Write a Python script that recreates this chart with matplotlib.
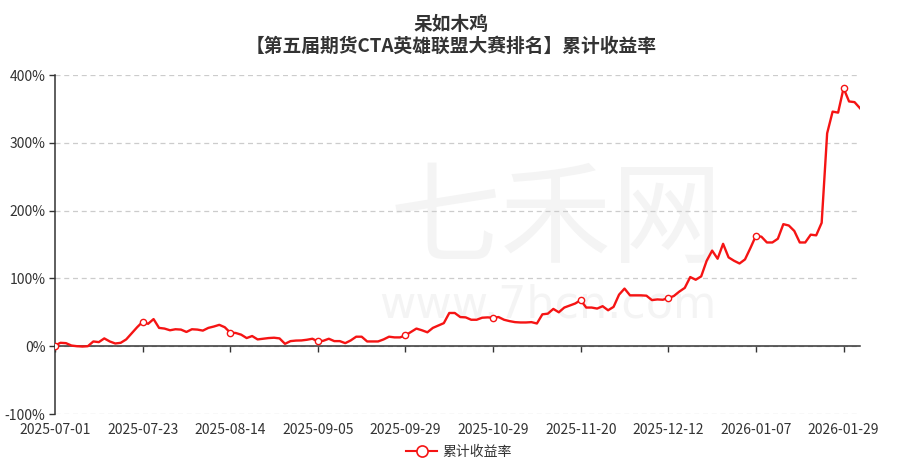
import numpy as np
import matplotlib
matplotlib.use("Agg")
import matplotlib.pyplot as plt

plt.rcParams['font.family'] = ['Noto Sans CJK SC', 'DejaVu Sans']

# --- data (one value per trading day) ---
TITLE_1 = "呆如木鸡"
TITLE_2 = "【第五届期货CTA英雄联盟大赛排名】累计收益率"
SERIES_NAME = "累计收益率"
tick_labels = ["2025-07-01", "2025-07-23", "2025-08-14", "2025-09-05", "2025-09-29",
               "2025-10-29", "2025-11-20", "2025-12-12", "2026-01-07", "2026-01-29"]
tick_step = 16
cum_return = [
    1, 5, 4.5, 1, 0, -0.5, 0, 7, 6, 11.5,
    7, 4, 5, 10, 19, 28, 36, 33, 40, 27,
    26, 23.5, 25, 24.5, 21, 25, 24.5, 23, 27, 29,
    31.5, 28, 20, 19.5, 17, 12, 15, 10, 11, 12,
    12.5, 11.5, 3.5, 7.5, 8.3, 8.5, 9.5, 11, 7, 8,
    11, 7.5, 7.5, 4.5, 8.5, 14, 14, 7, 7, 7,
    10, 14, 13, 13, 16, 21, 26, 23.5, 20.5, 27,
    30.5, 34, 49, 49, 43, 42.5, 39, 39, 42, 42.5,
    42, 43, 39, 37, 35.5, 35, 35, 35.5, 33.5, 47,
    48, 55, 50, 57, 60, 63, 68, 57, 57, 55.5,
    59, 53, 58, 76, 85, 75, 75, 75, 74.5, 68,
    69, 68.5, 71, 74, 80.5, 86, 102, 98, 103, 126,
    141, 129, 151, 131, 126, 122, 128, 145, 163, 161.5,
    153, 153, 158.5, 180, 178, 170, 153, 153, 164.5, 163.5,
    182, 314, 346, 344.5, 380.5, 361, 360, 351,
]

W, H = 902, 465
fig = plt.figure(figsize=(W / 100, H / 100), dpi=100)
x0, x1, y0, y1 = 55, 860, 75, 414
ax = fig.add_axes([x0 / W, 1 - y1 / H, (x1 - x0) / W, (y1 - y0) / H])

# faint watermark, kept behind the line
ax.text(556 / W, 1 - 222 / H, "七禾网", transform=fig.transFigure, fontsize=80,
        color="#f4f4f4", ha="center", va="center", zorder=0)
ax.text(548 / W, 1 - 305 / H, "www.7hcn.com", transform=fig.transFigure, fontsize=32,
        color="#f4f4f4", ha="center", va="center", family=["DejaVu Sans"], zorder=0)

x = np.arange(len(cum_return))
red = "#f51414"
ax.plot(x, cum_return, color=red, lw=1.7, zorder=3, solid_joinstyle="round")
mk = x[::tick_step]
ax.plot(mk, np.array(cum_return)[::tick_step], ls="none", marker="o", ms=4.5,
        mfc="white", mec=red, mew=1.0, zorder=4)

ax.set_xlim(0, len(cum_return) - 1)
ax.set_ylim(-100, 400)
ax.set_yticks(range(-100, 401, 100))
ax.set_yticklabels([f"{v}%" for v in range(-100, 401, 100)])
ax.yaxis.grid(True, ls=(0, (4, 3)), color="#cccccc", lw=0.9, zorder=1)
ax.set_axisbelow(True)

ax.set_xticks(mk)
ax.set_xticklabels(tick_labels)
for s in ("top", "right"):
    ax.spines[s].set_visible(False)
ax.spines["bottom"].set_position(("data", 0))
for s in ("left", "bottom"):
    ax.spines[s].set_color("#333333")
    ax.spines[s].set_linewidth(1.1)
ax.tick_params(axis="x", length=4, width=1, color="#333333", pad=51.5,
               labelsize=10, labelcolor="#333333")
ax.tick_params(axis="y", length=4, width=1, color="#333333", pad=3,
               labelsize=10, labelcolor="#333333")

fig.text(0.5, 1 - 24 / H, TITLE_1, ha="center", va="center", fontsize=13.5,
         fontweight="bold", color="#333333")
fig.text(0.5, 1 - 46 / H, TITLE_2, ha="center", va="center", fontsize=13.5,
         fontweight="bold", color="#333333")

# legend
leg = fig.legend(handles=[plt.Line2D([], [], color=red, lw=1.5, marker="o", ms=8,
                                     mfc="white", mec=red, mew=1.2)],
                 labels=[SERIES_NAME], loc="center", bbox_to_anchor=(459 / W, 1 - 452 / H),
                 frameon=False, fontsize=10, handlelength=2.2, handletextpad=0.4)
for t in leg.get_texts():
    t.set_color("#333333")

fig.savefig("out.png", dpi=100)
